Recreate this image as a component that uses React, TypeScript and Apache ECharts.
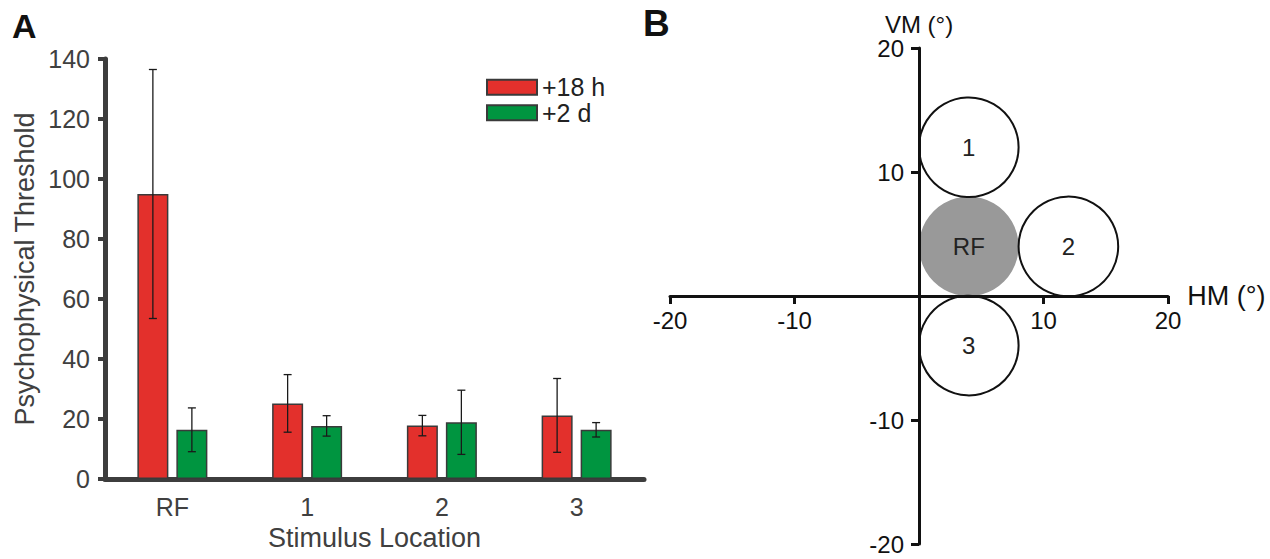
import React, { useEffect, useRef } from 'react';
import * as echarts from 'echarts';

// ---------- Data ----------
const categories = ['RF', '1', '2', '3'];
const seriesNames = ['+18 h', '+2 d'];
const threshold18h = [95, 25.2, 17.8, 21.2];
const error18h = [41.5, 9.6, 3.4, 12.3];
const threshold2d = [16.4, 17.7, 18.9, 16.4];
const error2d = [7.3, 3.4, 10.7, 2.4];

const circleLabels = ['RF', '1', '2', '3'];
const circleX = [4, 4, 12, 4];
const circleY = [4, 12, 4, -4];
const circleR = [4, 4, 4, 4];
const circleFilled = [true, false, false, false];

const FONT = '"Liberation Sans", Arial, Helvetica, sans-serif';
const GRAY_TXT = '#404040';
const AXIS_A = '#3d3d3d';

export default function App() {
  const ref = useRef<HTMLDivElement>(null);

  useEffect(() => {
    const chart = echarts.init(ref.current!, null, { renderer: 'svg' });
    const BAR_W = 31;
    const BAR_GAP = 8;
    const off = (BAR_W + BAR_GAP) / 2;
    const GB_W = 498;
    const GB_H = 496;

    const errSeries = (vals: number[], errs: number[], dx: number) => ({
      type: 'custom',
      xAxisIndex: 0,
      yAxisIndex: 0,
      z: 5,
      silent: true,
      data: vals.map((v, i) => [i, v, errs[i]]),
      encode: { x: 0, y: 1 },
      renderItem: (_p: any, api: any) => {
        const i = api.value(0);
        const m = api.value(1);
        const e = api.value(2);
        const top = api.coord([i, m + e]);
        const bot = api.coord([i, m - e]);
        const x = top[0] + dx;
        const cap = 4;
        const st = { stroke: '#1a1a1a', lineWidth: 1.3 };
        return {
          type: 'group',
          children: [
            { type: 'line', shape: { x1: x, y1: top[1], x2: x, y2: bot[1] }, style: st },
            { type: 'line', shape: { x1: x - cap, y1: top[1], x2: x + cap, y2: top[1] }, style: st },
            { type: 'line', shape: { x1: x - cap, y1: bot[1], x2: x + cap, y2: bot[1] }, style: st },
          ],
        };
      },
    });

    const circleData = circleX.map((x, i) => [x, circleY[i], circleR[i], i]);

    const option: any = {
      animation: false,
      backgroundColor: '#ffffff',
      textStyle: { fontFamily: FONT },
      graphic: [
        { type: 'text', left: 12, top: 9, style: { text: 'A', fontSize: 34, fontWeight: 'bold', fill: '#111', fontFamily: FONT } },
        { type: 'text', left: 643, top: 5, style: { text: 'B', fontSize: 37, fontWeight: 'bold', fill: '#111', fontFamily: FONT } },
      ],
      legend: {
        data: seriesNames,
        orient: 'vertical',
        left: 486,
        top: 74.8,
        padding: 0,
        itemWidth: 50,
        itemHeight: 15,
        itemGap: 0.5,
        icon: 'rect',
        selectedMode: false,
        textStyle: { fontSize: 25, lineHeight: 25, color: '#222', fontFamily: FONT },
      },
      grid: [
        { left: 105, top: 59, width: 539, height: 420, outerBoundsMode: 'none', containLabel: false },
        { left: 670, top: 48, width: GB_W, height: GB_H, outerBoundsMode: 'none', containLabel: false },
      ],
      xAxis: [
        {
          gridIndex: 0,
          type: 'category',
          data: categories,
          axisLine: { lineStyle: { color: AXIS_A, width: 5 } },
          axisTick: { alignWithLabel: true, length: 6, lineStyle: { color: AXIS_A, width: 4 } },
          axisLabel: { fontSize: 25, color: GRAY_TXT, margin: 15, fontFamily: FONT },
          name: 'Stimulus Location',
          nameLocation: 'middle',
          nameGap: 45,
          nameTextStyle: { fontSize: 27, color: GRAY_TXT, fontFamily: FONT },
        },
        {
          gridIndex: 1,
          type: 'value',
          min: -20,
          max: 20,
          interval: 10,
          z: 10,
          position: 'bottom',
          offset: -GB_H / 2,
          splitLine: { show: false },
          axisLine: { onZero: false, lineStyle: { color: '#111', width: 3 } },
          axisTick: { length: 8, lineStyle: { color: '#111', width: 3 } },
          axisLabel: {
            fontSize: 24,
            color: '#111',
            margin: 12,
            fontFamily: FONT,
            formatter: (v: number) => (v === 0 ? '' : String(v)),
          },
          name: 'HM (°)',
          nameLocation: 'end',
          nameGap: 7,
          nameTextStyle: { fontSize: 27, color: '#111', fontFamily: FONT },
        },
      ],
      yAxis: [
        {
          gridIndex: 0,
          type: 'value',
          min: 0,
          max: 140,
          interval: 20,
          splitLine: { show: false },
          axisLine: { show: true, lineStyle: { color: AXIS_A, width: 5 } },
          axisTick: { show: true, length: 7, lineStyle: { color: AXIS_A, width: 4 } },
          axisLabel: { fontSize: 25, color: GRAY_TXT, margin: 15, fontFamily: FONT },
          name: 'Psychophysical Threshold',
          nameLocation: 'middle',
          nameGap: 67,
          nameTextStyle: { fontSize: 27, color: GRAY_TXT, fontFamily: FONT },
        },
        {
          gridIndex: 1,
          type: 'value',
          min: -20,
          max: 20,
          interval: 10,
          z: 10,
          position: 'left',
          offset: -GB_W / 2,
          splitLine: { show: false },
          axisLine: { show: true, onZero: false, lineStyle: { color: '#111', width: 3 } },
          axisTick: { show: true, length: 8, lineStyle: { color: '#111', width: 3 } },
          axisLabel: {
            fontSize: 24,
            color: '#111',
            margin: 15,
            fontFamily: FONT,
            formatter: (v: number) => (v === 0 ? '' : String(v)),
          },
          name: 'VM (°)',
          nameLocation: 'end',
          nameGap: 10,
          nameTextStyle: { fontSize: 24, color: '#111', fontFamily: FONT },
        },
      ],
      series: [
        {
          name: seriesNames[0],
          type: 'bar',
          xAxisIndex: 0,
          yAxisIndex: 0,
          data: threshold18h,
          barWidth: BAR_W,
          barGap: `${(BAR_GAP / BAR_W) * 100}%`,
          itemStyle: { color: '#e3302c', borderColor: '#3a3a3a', borderWidth: 1.5 },
        },
        {
          name: seriesNames[1],
          type: 'bar',
          xAxisIndex: 0,
          yAxisIndex: 0,
          data: threshold2d,
          barWidth: BAR_W,
          barGap: `${(BAR_GAP / BAR_W) * 100}%`,
          itemStyle: { color: '#009540', borderColor: '#3a3a3a', borderWidth: 1.5 },
        },
        errSeries(threshold18h, error18h, -off),
        errSeries(threshold2d, error2d, off),
        {
          type: 'custom',
          xAxisIndex: 1,
          yAxisIndex: 1,
          z: 1,
          silent: true,
          data: circleData,
          encode: { x: 0, y: 1 },
          renderItem: (_p: any, api: any) => {
            const c = api.coord([api.value(0), api.value(1)]);
            const sz = api.size([api.value(2), api.value(2)]);
            const idx = api.value(3);
            const filled = circleFilled[idx];
            return {
              type: 'group',
              children: [
                {
                  type: 'circle',
                  shape: { cx: c[0], cy: c[1], r: sz[0] },
                  style: filled
                    ? { fill: '#999999', stroke: 'none' }
                    : { fill: '#ffffff', stroke: '#111', lineWidth: 2 },
                },
                {
                  type: 'text',
                  style: {
                    text: circleLabels[idx],
                    x: c[0],
                    y: c[1],
                    align: 'center',
                    verticalAlign: 'middle',
                    fontSize: 24,
                    fill: '#222',
                    fontFamily: FONT,
                  },
                },
              ],
            };
          },
        },
      ],
    };

    chart.setOption(option);
    return () => chart.dispose();
  }, []);

  return (
    <div
      ref={ref}
      style={{ position: 'fixed', left: 0, top: 0, width: 1270, height: 559 }}
    />
  );
}
